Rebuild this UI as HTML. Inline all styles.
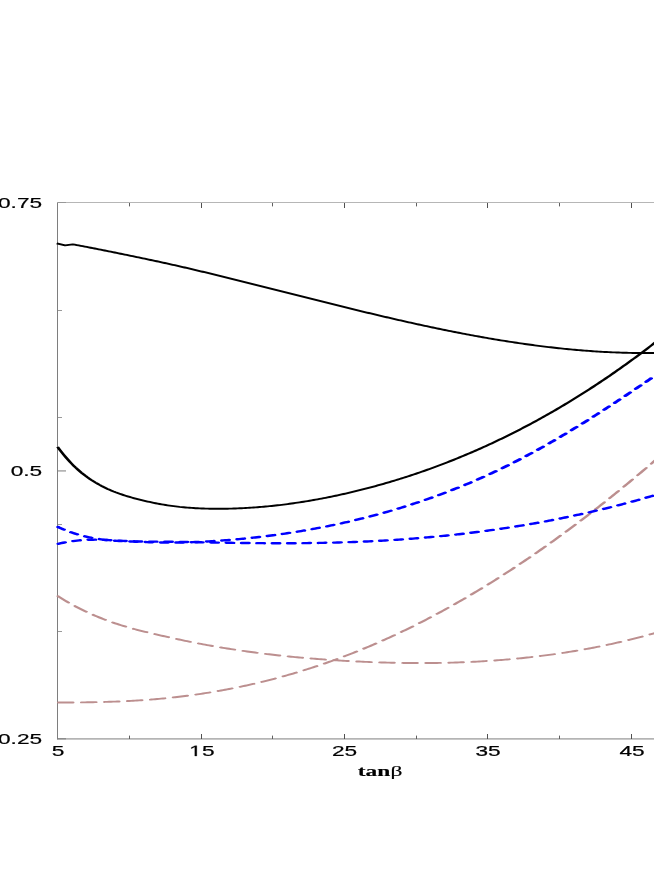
<!DOCTYPE html>
<html><head><meta charset="utf-8"><title>chart</title>
<style>
html,body{margin:0;padding:0;background:#fff;}
body{width:654px;height:872px;overflow:hidden;font-family:"Liberation Sans",sans-serif;}
svg{display:block}
text{font-family:"Liberation Sans",sans-serif;fill:#000}
.ser{font-family:"Liberation Serif",serif;font-weight:bold}
</style></head><body>
<svg width="654" height="872" viewBox="0 0 654 872">
<rect width="654" height="872" fill="#fff"/>
<g shape-rendering="crispEdges">
<rect x="57" y="202" width="597" height="1" fill="#b6b6b6"/>
<rect x="57" y="738" width="597" height="1" fill="#b4b4b4"/>
<rect x="57" y="739" width="597" height="1" fill="#c8c8c8"/>
<rect x="58" y="738" width="8" height="1" fill="#8c8c8c"/>
<rect x="58" y="739" width="8" height="1" fill="#b0b0b0"/>
<rect x="58" y="631" width="4" height="1" fill="#9a9a9a"/>
<rect x="58" y="524" width="4" height="1" fill="#9a9a9a"/>
<rect x="58" y="470" width="8" height="1" fill="#b4b4b4"/>
<rect x="58" y="471" width="8" height="1" fill="#c6c6c6"/>
<rect x="58" y="417" width="4" height="1" fill="#9a9a9a"/>
<rect x="58" y="310" width="4" height="1" fill="#9a9a9a"/>
<rect x="58" y="202" width="8" height="1" fill="#989898"/>
<rect x="57" y="203" width="1" height="536" fill="#7e7e7e"/>
<rect x="57" y="202" width="1" height="1" fill="#a4a4a4"/>
<rect x="57" y="739" width="1" height="1" fill="#a8a8a8"/>
<rect x="129" y="736" width="1" height="3" fill="#606060"/>
<rect x="129" y="203" width="1" height="3" fill="#606060"/>
<rect x="129" y="735" width="1" height="1" fill="#c0c0c0"/>
<rect x="129" y="206" width="1" height="1" fill="#c0c0c0"/>
<rect x="201" y="734" width="1" height="5" fill="#505050"/>
<rect x="201" y="203" width="1" height="5" fill="#505050"/>
<rect x="272" y="736" width="1" height="3" fill="#606060"/>
<rect x="272" y="203" width="1" height="3" fill="#606060"/>
<rect x="272" y="735" width="1" height="1" fill="#c0c0c0"/>
<rect x="272" y="206" width="1" height="1" fill="#c0c0c0"/>
<rect x="344" y="734" width="1" height="5" fill="#505050"/>
<rect x="344" y="203" width="1" height="5" fill="#505050"/>
<rect x="416" y="736" width="1" height="3" fill="#606060"/>
<rect x="416" y="203" width="1" height="3" fill="#606060"/>
<rect x="416" y="735" width="1" height="1" fill="#c0c0c0"/>
<rect x="416" y="206" width="1" height="1" fill="#c0c0c0"/>
<rect x="487" y="734" width="1" height="5" fill="#505050"/>
<rect x="487" y="203" width="1" height="5" fill="#505050"/>
<rect x="559" y="736" width="1" height="3" fill="#606060"/>
<rect x="559" y="203" width="1" height="3" fill="#606060"/>
<rect x="559" y="735" width="1" height="1" fill="#c0c0c0"/>
<rect x="559" y="206" width="1" height="1" fill="#c0c0c0"/>
<rect x="631" y="734" width="1" height="5" fill="#505050"/>
<rect x="631" y="203" width="1" height="5" fill="#505050"/>
</g>
<g transform="scale(1.6,1)">

<g fill="none" stroke-linejoin="round">
<path d="M35.69,595.68 L36.94,596.95 L38.19,598.19 L39.44,599.41 L40.69,600.60 L41.94,601.77 L43.19,602.91 L44.44,604.03 L45.69,605.12 L46.94,606.19 L48.19,607.24 L49.44,608.26 L50.69,609.26 L51.94,610.24 L53.19,611.20 L54.44,612.14 L55.69,613.06 L56.94,613.96 L58.19,614.83 L59.44,615.69 L60.69,616.53 L61.94,617.35 L63.19,618.16 L64.44,618.94 L65.69,619.71 L66.94,620.46 L68.19,621.20 L69.44,621.91 L70.69,622.61 L71.94,623.30 L73.19,623.96 L74.44,624.61 L75.69,625.24 L76.94,625.86 L78.19,626.46 L79.44,627.04 L80.69,627.62 L81.94,628.17 L83.19,628.72 L84.44,629.25 L85.69,629.78 L86.94,630.29 L88.19,630.80 L89.44,631.30 L90.69,631.79 L91.94,632.27 L93.19,632.75 L94.44,633.23 L95.69,633.70 L96.94,634.16 L98.19,634.63 L99.44,635.08 L100.69,635.54 L101.94,635.99 L103.19,636.44 L104.44,636.89 L105.69,637.34 L106.94,637.78 L108.19,638.22 L109.44,638.66 L110.69,639.09 L111.94,639.52 L113.19,639.94 L114.44,640.37 L115.69,640.78 L116.94,641.20 L118.19,641.60 L119.44,642.01 L120.69,642.41 L121.94,642.80 L123.19,643.19 L124.44,643.57 L125.69,643.95 L126.94,644.33 L128.19,644.70 L129.44,645.06 L130.69,645.42 L131.94,645.78 L133.19,646.13 L134.44,646.48 L135.69,646.82 L136.94,647.16 L138.19,647.50 L139.44,647.83 L140.69,648.15 L141.94,648.48 L143.19,648.79 L144.44,649.11 L145.69,649.42 L146.94,649.72 L148.19,650.02 L149.44,650.32 L150.69,650.61 L151.94,650.90 L153.19,651.19 L154.44,651.47 L155.69,651.75 L156.94,652.02 L158.19,652.29 L159.44,652.55 L160.69,652.81 L161.94,653.07 L163.19,653.33 L164.44,653.58 L165.69,653.82 L166.94,654.06 L168.19,654.30 L169.44,654.54 L170.69,654.77 L171.94,655.00 L173.19,655.22 L174.44,655.44 L175.69,655.66 L176.94,655.87 L178.19,656.08 L179.44,656.29 L180.69,656.49 L181.94,656.69 L183.19,656.88 L184.44,657.07 L185.69,657.26 L186.94,657.45 L188.19,657.63 L189.44,657.81 L190.69,657.99 L191.94,658.16 L193.19,658.33 L194.44,658.49 L195.69,658.65 L196.94,658.81 L198.19,658.97 L199.44,659.12 L200.69,659.27 L201.94,659.42 L203.19,659.56 L204.44,659.70 L205.69,659.84 L206.94,659.98 L208.19,660.11 L209.44,660.24 L210.69,660.36 L211.94,660.49 L213.19,660.61 L214.44,660.72 L215.69,660.84 L216.94,660.95 L218.19,661.06 L219.44,661.17 L220.69,661.27 L221.94,661.37 L223.19,661.47 L224.44,661.56 L225.69,661.66 L226.94,661.74 L228.19,661.83 L229.44,661.92 L230.69,662.00 L231.94,662.08 L233.19,662.15 L234.44,662.23 L235.69,662.30 L236.94,662.36 L238.19,662.43 L239.44,662.49 L240.69,662.55 L241.94,662.60 L243.19,662.65 L244.44,662.70 L245.69,662.75 L246.94,662.79 L248.19,662.83 L249.44,662.87 L250.69,662.90 L251.94,662.93 L253.19,662.96 L254.44,662.98 L255.69,663.00 L256.94,663.02 L258.19,663.03 L259.44,663.04 L260.69,663.05 L261.94,663.06 L263.19,663.06 L264.44,663.05 L265.69,663.05 L266.94,663.04 L268.19,663.02 L269.44,663.00 L270.69,662.98 L271.94,662.96 L273.19,662.93 L274.44,662.90 L275.69,662.87 L276.94,662.83 L278.19,662.78 L279.44,662.74 L280.69,662.69 L281.94,662.63 L283.19,662.58 L284.44,662.51 L285.69,662.45 L286.94,662.38 L288.19,662.31 L289.44,662.23 L290.69,662.15 L291.94,662.07 L293.19,661.98 L294.44,661.88 L295.69,661.79 L296.94,661.69 L298.19,661.58 L299.44,661.47 L300.69,661.36 L301.94,661.24 L303.19,661.12 L304.44,660.99 L305.69,660.86 L306.94,660.73 L308.19,660.59 L309.44,660.45 L310.69,660.30 L311.94,660.15 L313.19,660.00 L314.44,659.84 L315.69,659.67 L316.94,659.50 L318.19,659.33 L319.44,659.15 L320.69,658.97 L321.94,658.78 L323.19,658.59 L324.44,658.39 L325.69,658.19 L326.94,657.99 L328.19,657.78 L329.44,657.56 L330.69,657.35 L331.94,657.12 L333.19,656.89 L334.44,656.66 L335.69,656.42 L336.94,656.18 L338.19,655.93 L339.44,655.68 L340.69,655.42 L341.94,655.16 L343.19,654.89 L344.44,654.62 L345.69,654.34 L346.94,654.06 L348.19,653.77 L349.44,653.48 L350.69,653.18 L351.94,652.88 L353.19,652.57 L354.44,652.26 L355.69,651.94 L356.94,651.62 L358.19,651.29 L359.44,650.96 L360.69,650.62 L361.94,650.27 L363.19,649.93 L364.44,649.57 L365.69,649.21 L366.94,648.85 L368.19,648.47 L369.44,648.10 L370.69,647.72 L371.94,647.33 L373.19,646.94 L374.44,646.54 L375.69,646.14 L376.94,645.73 L378.19,645.31 L379.44,644.89 L380.69,644.47 L381.94,644.03 L383.19,643.60 L384.44,643.15 L385.69,642.71 L386.94,642.25 L388.19,641.79 L389.44,641.32 L390.69,640.85 L391.94,640.38 L393.19,639.89 L394.44,639.40 L395.69,638.91 L396.94,638.41 L398.19,637.90 L399.44,637.39 L400.69,636.87 L401.94,636.34 L403.19,635.81 L404.44,635.27 L405.69,634.73 L406.94,634.18 L408.19,633.62 L409.44,633.06 L410.69,632.49 L411.94,631.92 L413.19,631.34 L413.75,631.08" stroke="#bc8f8f" stroke-width="1.9" stroke-linecap="round" stroke-dasharray="9.1 5.3" stroke-dashoffset="-0.85"/>
<path d="M35.69,702.52 L36.94,702.52 L38.19,702.51 L39.44,702.50 L40.69,702.50 L41.94,702.49 L43.19,702.48 L44.44,702.46 L45.69,702.45 L46.94,702.44 L48.19,702.42 L49.44,702.40 L50.69,702.38 L51.94,702.35 L53.19,702.33 L54.44,702.30 L55.69,702.27 L56.94,702.23 L58.19,702.20 L59.44,702.16 L60.69,702.12 L61.94,702.07 L63.19,702.02 L64.44,701.97 L65.69,701.92 L66.94,701.86 L68.19,701.80 L69.44,701.74 L70.69,701.67 L71.94,701.59 L73.19,701.52 L74.44,701.44 L75.69,701.36 L76.94,701.27 L78.19,701.18 L79.44,701.08 L80.69,700.98 L81.94,700.88 L83.19,700.77 L84.44,700.65 L85.69,700.53 L86.94,700.41 L88.19,700.28 L89.44,700.14 L90.69,700.00 L91.94,699.86 L93.19,699.71 L94.44,699.55 L95.69,699.39 L96.94,699.22 L98.19,699.05 L99.44,698.87 L100.69,698.68 L101.94,698.49 L103.19,698.30 L104.44,698.09 L105.69,697.89 L106.94,697.67 L108.19,697.45 L109.44,697.23 L110.69,697.00 L111.94,696.76 L113.19,696.52 L114.44,696.28 L115.69,696.02 L116.94,695.77 L118.19,695.50 L119.44,695.23 L120.69,694.96 L121.94,694.68 L123.19,694.39 L124.44,694.10 L125.69,693.80 L126.94,693.50 L128.19,693.19 L129.44,692.87 L130.69,692.55 L131.94,692.22 L133.19,691.89 L134.44,691.55 L135.69,691.20 L136.94,690.85 L138.19,690.49 L139.44,690.13 L140.69,689.76 L141.94,689.38 L143.19,689.00 L144.44,688.61 L145.69,688.22 L146.94,687.82 L148.19,687.42 L149.44,687.00 L150.69,686.59 L151.94,686.16 L153.19,685.73 L154.44,685.29 L155.69,684.85 L156.94,684.40 L158.19,683.95 L159.44,683.49 L160.69,683.02 L161.94,682.55 L163.19,682.07 L164.44,681.58 L165.69,681.09 L166.94,680.59 L168.19,680.08 L169.44,679.57 L170.69,679.05 L171.94,678.53 L173.19,678.00 L174.44,677.46 L175.69,676.92 L176.94,676.37 L178.19,675.81 L179.44,675.25 L180.69,674.68 L181.94,674.11 L183.19,673.52 L184.44,672.93 L185.69,672.34 L186.94,671.74 L188.19,671.13 L189.44,670.51 L190.69,669.89 L191.94,669.26 L193.19,668.63 L194.44,667.99 L195.69,667.34 L196.94,666.69 L198.19,666.03 L199.44,665.36 L200.69,664.68 L201.94,664.00 L203.19,663.31 L204.44,662.62 L205.69,661.92 L206.94,661.21 L208.19,660.49 L209.44,659.77 L210.69,659.04 L211.94,658.31 L213.19,657.56 L214.44,656.81 L215.69,656.06 L216.94,655.30 L218.19,654.53 L219.44,653.75 L220.69,652.96 L221.94,652.17 L223.19,651.38 L224.44,650.57 L225.69,649.76 L226.94,648.94 L228.19,648.12 L229.44,647.28 L230.69,646.44 L231.94,645.60 L233.19,644.74 L234.44,643.88 L235.69,643.02 L236.94,642.14 L238.19,641.26 L239.44,640.37 L240.69,639.48 L241.94,638.58 L243.19,637.67 L244.44,636.75 L245.69,635.83 L246.94,634.90 L248.19,633.97 L249.44,633.03 L250.69,632.08 L251.94,631.12 L253.19,630.16 L254.44,629.19 L255.69,628.21 L256.94,627.23 L258.19,626.24 L259.44,625.25 L260.69,624.24 L261.94,623.23 L263.19,622.22 L264.44,621.20 L265.69,620.17 L266.94,619.13 L268.19,618.09 L269.44,617.04 L270.69,615.98 L271.94,614.92 L273.19,613.85 L274.44,612.78 L275.69,611.70 L276.94,610.61 L278.19,609.51 L279.44,608.41 L280.69,607.30 L281.94,606.19 L283.19,605.07 L284.44,603.94 L285.69,602.81 L286.94,601.67 L288.19,600.52 L289.44,599.37 L290.69,598.21 L291.94,597.04 L293.19,595.87 L294.44,594.69 L295.69,593.51 L296.94,592.31 L298.19,591.12 L299.44,589.91 L300.69,588.70 L301.94,587.48 L303.19,586.26 L304.44,585.03 L305.69,583.80 L306.94,582.56 L308.19,581.31 L309.44,580.05 L310.69,578.79 L311.94,577.53 L313.19,576.25 L314.44,574.97 L315.69,573.69 L316.94,572.40 L318.19,571.10 L319.44,569.79 L320.69,568.48 L321.94,567.17 L323.19,565.85 L324.44,564.52 L325.69,563.18 L326.94,561.84 L328.19,560.50 L329.44,559.14 L330.69,557.78 L331.94,556.42 L333.19,555.05 L334.44,553.67 L335.69,552.29 L336.94,550.90 L338.19,549.50 L339.44,548.10 L340.69,546.70 L341.94,545.28 L343.19,543.86 L344.44,542.44 L345.69,541.01 L346.94,539.57 L348.19,538.13 L349.44,536.68 L350.69,535.23 L351.94,533.76 L353.19,532.30 L354.44,530.83 L355.69,529.35 L356.94,527.86 L358.19,526.38 L359.44,524.88 L360.69,523.38 L361.94,521.87 L363.19,520.36 L364.44,518.84 L365.69,517.32 L366.94,515.79 L368.19,514.25 L369.44,512.71 L370.69,511.16 L371.94,509.61 L373.19,508.05 L374.44,506.49 L375.69,504.92 L376.94,503.34 L378.19,501.76 L379.44,500.17 L380.69,498.58 L381.94,496.98 L383.19,495.38 L384.44,493.77 L385.69,492.15 L386.94,490.53 L388.19,488.91 L389.44,487.27 L390.69,485.64 L391.94,483.99 L393.19,482.35 L394.44,480.69 L395.69,479.03 L396.94,477.37 L398.19,475.70 L399.44,474.02 L400.69,472.34 L401.94,470.65 L403.19,468.96 L404.44,467.27 L405.69,465.56 L406.94,463.85 L408.19,462.14 L409.44,460.42 L410.69,458.70 L411.94,456.97 L413.19,455.23 L413.75,454.45" stroke="#bc8f8f" stroke-width="1.9" stroke-linecap="round" stroke-dasharray="9.1 5.3" stroke-dashoffset="-0.85"/>
<path d="M35.69,526.51 L36.94,527.47 L38.19,528.38 L39.44,529.25 L40.69,530.07 L41.94,530.87 L43.19,531.62 L44.44,532.33 L45.69,533.01 L46.94,533.66 L48.19,534.27 L49.44,534.85 L50.69,535.39 L51.94,535.91 L53.19,536.39 L54.44,536.85 L55.69,537.28 L56.94,537.68 L58.19,538.05 L59.44,538.40 L60.69,538.73 L61.94,539.03 L63.19,539.31 L64.44,539.57 L65.69,539.81 L66.94,540.03 L68.19,540.23 L69.44,540.41 L70.69,540.58 L71.94,540.73 L73.19,540.86 L74.44,540.99 L75.69,541.10 L76.94,541.20 L78.19,541.29 L79.44,541.38 L80.69,541.46 L81.94,541.54 L83.19,541.62 L84.44,541.69 L85.69,541.76 L86.94,541.83 L88.19,541.90 L89.44,541.97 L90.69,542.04 L91.94,542.11 L93.19,542.18 L94.44,542.24 L95.69,542.30 L96.94,542.35 L98.19,542.40 L99.44,542.45 L100.69,542.49 L101.94,542.52 L103.19,542.55 L104.44,542.56 L105.69,542.58 L106.94,542.58 L108.19,542.57 L109.44,542.56 L110.69,542.54 L111.94,542.52 L113.19,542.48 L114.44,542.44 L115.69,542.39 L116.94,542.33 L118.19,542.26 L119.44,542.19 L120.69,542.12 L121.94,542.04 L123.19,541.95 L124.44,541.86 L125.69,541.77 L126.94,541.67 L128.19,541.56 L129.44,541.45 L130.69,541.34 L131.94,541.22 L133.19,541.10 L134.44,540.97 L135.69,540.84 L136.94,540.70 L138.19,540.56 L139.44,540.41 L140.69,540.26 L141.94,540.11 L143.19,539.95 L144.44,539.78 L145.69,539.61 L146.94,539.44 L148.19,539.26 L149.44,539.08 L150.69,538.89 L151.94,538.70 L153.19,538.50 L154.44,538.30 L155.69,538.09 L156.94,537.88 L158.19,537.67 L159.44,537.45 L160.69,537.22 L161.94,536.99 L163.19,536.76 L164.44,536.52 L165.69,536.27 L166.94,536.02 L168.19,535.77 L169.44,535.51 L170.69,535.25 L171.94,534.98 L173.19,534.71 L174.44,534.43 L175.69,534.15 L176.94,533.86 L178.19,533.56 L179.44,533.27 L180.69,532.96 L181.94,532.66 L183.19,532.34 L184.44,532.03 L185.69,531.71 L186.94,531.38 L188.19,531.05 L189.44,530.71 L190.69,530.37 L191.94,530.02 L193.19,529.67 L194.44,529.31 L195.69,528.95 L196.94,528.58 L198.19,528.21 L199.44,527.83 L200.69,527.45 L201.94,527.06 L203.19,526.67 L204.44,526.27 L205.69,525.87 L206.94,525.46 L208.19,525.05 L209.44,524.63 L210.69,524.21 L211.94,523.78 L213.19,523.35 L214.44,522.91 L215.69,522.47 L216.94,522.02 L218.19,521.56 L219.44,521.10 L220.69,520.63 L221.94,520.16 L223.19,519.68 L224.44,519.20 L225.69,518.71 L226.94,518.22 L228.19,517.72 L229.44,517.21 L230.69,516.70 L231.94,516.18 L233.19,515.66 L234.44,515.13 L235.69,514.60 L236.94,514.06 L238.19,513.51 L239.44,512.96 L240.69,512.40 L241.94,511.84 L243.19,511.27 L244.44,510.69 L245.69,510.11 L246.94,509.52 L248.19,508.92 L249.44,508.32 L250.69,507.72 L251.94,507.10 L253.19,506.48 L254.44,505.86 L255.69,505.22 L256.94,504.58 L258.19,503.94 L259.44,503.29 L260.69,502.63 L261.94,501.96 L263.19,501.29 L264.44,500.62 L265.69,499.93 L266.94,499.24 L268.19,498.54 L269.44,497.84 L270.69,497.13 L271.94,496.41 L273.19,495.68 L274.44,494.95 L275.69,494.21 L276.94,493.47 L278.19,492.72 L279.44,491.96 L280.69,491.19 L281.94,490.42 L283.19,489.64 L284.44,488.85 L285.69,488.05 L286.94,487.25 L288.19,486.44 L289.44,485.63 L290.69,484.80 L291.94,483.97 L293.19,483.14 L294.44,482.29 L295.69,481.44 L296.94,480.58 L298.19,479.71 L299.44,478.84 L300.69,477.95 L301.94,477.07 L303.19,476.17 L304.44,475.26 L305.69,474.35 L306.94,473.43 L308.19,472.50 L309.44,471.57 L310.69,470.62 L311.94,469.67 L313.19,468.72 L314.44,467.75 L315.69,466.77 L316.94,465.79 L318.19,464.80 L319.44,463.80 L320.69,462.80 L321.94,461.78 L323.19,460.76 L324.44,459.73 L325.69,458.69 L326.94,457.65 L328.19,456.59 L329.44,455.53 L330.69,454.46 L331.94,453.39 L333.19,452.30 L334.44,451.21 L335.69,450.11 L336.94,449.01 L338.19,447.89 L339.44,446.77 L340.69,445.65 L341.94,444.51 L343.19,443.37 L344.44,442.23 L345.69,441.07 L346.94,439.91 L348.19,438.75 L349.44,437.57 L350.69,436.40 L351.94,435.21 L353.19,434.02 L354.44,432.82 L355.69,431.62 L356.94,430.41 L358.19,429.20 L359.44,427.98 L360.69,426.75 L361.94,425.52 L363.19,424.29 L364.44,423.04 L365.69,421.80 L366.94,420.55 L368.19,419.29 L369.44,418.03 L370.69,416.76 L371.94,415.49 L373.19,414.22 L374.44,412.94 L375.69,411.65 L376.94,410.37 L378.19,409.07 L379.44,407.78 L380.69,406.48 L381.94,405.17 L383.19,403.86 L384.44,402.55 L385.69,401.23 L386.94,399.91 L388.19,398.59 L389.44,397.26 L390.69,395.93 L391.94,394.60 L393.19,393.26 L394.44,391.92 L395.69,390.58 L396.94,389.23 L398.19,387.89 L399.44,386.54 L400.69,385.18 L401.94,383.82 L403.19,382.47 L404.44,381.10 L405.69,379.74 L406.94,378.38 L408.19,377.01 L409.44,375.64 L410.69,374.27 L411.94,372.89 L413.19,371.52 L413.75,370.90" stroke="#0000ff" stroke-width="2.4" stroke-linecap="round" stroke-dasharray="4.5 5.1" stroke-dashoffset="-0.8"/>
<path d="M35.69,544.09 L36.94,543.62 L38.19,543.17 L39.44,542.75 L40.69,542.36 L41.94,541.99 L43.19,541.66 L44.44,541.35 L45.69,541.07 L46.94,540.82 L48.19,540.59 L49.44,540.39 L50.69,540.21 L51.94,540.06 L53.19,539.94 L54.44,539.84 L55.69,539.76 L56.94,539.71 L58.19,539.68 L59.44,539.67 L60.69,539.68 L61.94,539.72 L63.19,539.77 L64.44,539.84 L65.69,539.93 L66.94,540.03 L68.19,540.13 L69.44,540.25 L70.69,540.36 L71.94,540.48 L73.19,540.60 L74.44,540.71 L75.69,540.81 L76.94,540.91 L78.19,541.00 L79.44,541.08 L80.69,541.15 L81.94,541.22 L83.19,541.28 L84.44,541.34 L85.69,541.39 L86.94,541.43 L88.19,541.47 L89.44,541.50 L90.69,541.53 L91.94,541.56 L93.19,541.58 L94.44,541.60 L95.69,541.62 L96.94,541.64 L98.19,541.66 L99.44,541.68 L100.69,541.69 L101.94,541.71 L103.19,541.73 L104.44,541.75 L105.69,541.77 L106.94,541.80 L108.19,541.82 L109.44,541.85 L110.69,541.88 L111.94,541.91 L113.19,541.94 L114.44,541.98 L115.69,542.01 L116.94,542.05 L118.19,542.09 L119.44,542.13 L120.69,542.17 L121.94,542.21 L123.19,542.24 L124.44,542.28 L125.69,542.32 L126.94,542.36 L128.19,542.39 L129.44,542.43 L130.69,542.47 L131.94,542.50 L133.19,542.54 L134.44,542.57 L135.69,542.60 L136.94,542.64 L138.19,542.67 L139.44,542.70 L140.69,542.73 L141.94,542.77 L143.19,542.80 L144.44,542.82 L145.69,542.85 L146.94,542.88 L148.19,542.91 L149.44,542.93 L150.69,542.96 L151.94,542.98 L153.19,543.01 L154.44,543.03 L155.69,543.05 L156.94,543.07 L158.19,543.09 L159.44,543.11 L160.69,543.12 L161.94,543.14 L163.19,543.15 L164.44,543.17 L165.69,543.18 L166.94,543.19 L168.19,543.20 L169.44,543.21 L170.69,543.21 L171.94,543.22 L173.19,543.22 L174.44,543.23 L175.69,543.23 L176.94,543.23 L178.19,543.22 L179.44,543.22 L180.69,543.21 L181.94,543.21 L183.19,543.20 L184.44,543.19 L185.69,543.18 L186.94,543.16 L188.19,543.15 L189.44,543.13 L190.69,543.11 L191.94,543.09 L193.19,543.07 L194.44,543.04 L195.69,543.01 L196.94,542.98 L198.19,542.95 L199.44,542.92 L200.69,542.88 L201.94,542.85 L203.19,542.81 L204.44,542.77 L205.69,542.72 L206.94,542.68 L208.19,542.63 L209.44,542.58 L210.69,542.52 L211.94,542.47 L213.19,542.41 L214.44,542.35 L215.69,542.29 L216.94,542.22 L218.19,542.16 L219.44,542.09 L220.69,542.01 L221.94,541.94 L223.19,541.86 L224.44,541.78 L225.69,541.70 L226.94,541.61 L228.19,541.52 L229.44,541.43 L230.69,541.34 L231.94,541.24 L233.19,541.14 L234.44,541.04 L235.69,540.94 L236.94,540.83 L238.19,540.72 L239.44,540.61 L240.69,540.49 L241.94,540.37 L243.19,540.25 L244.44,540.13 L245.69,540.00 L246.94,539.87 L248.19,539.74 L249.44,539.61 L250.69,539.47 L251.94,539.33 L253.19,539.19 L254.44,539.04 L255.69,538.89 L256.94,538.74 L258.19,538.59 L259.44,538.43 L260.69,538.27 L261.94,538.10 L263.19,537.94 L264.44,537.77 L265.69,537.60 L266.94,537.42 L268.19,537.24 L269.44,537.06 L270.69,536.88 L271.94,536.69 L273.19,536.50 L274.44,536.31 L275.69,536.11 L276.94,535.91 L278.19,535.71 L279.44,535.50 L280.69,535.29 L281.94,535.08 L283.19,534.87 L284.44,534.65 L285.69,534.43 L286.94,534.20 L288.19,533.98 L289.44,533.75 L290.69,533.51 L291.94,533.27 L293.19,533.03 L294.44,532.79 L295.69,532.54 L296.94,532.29 L298.19,532.04 L299.44,531.78 L300.69,531.52 L301.94,531.26 L303.19,530.99 L304.44,530.73 L305.69,530.45 L306.94,530.18 L308.19,529.90 L309.44,529.61 L310.69,529.33 L311.94,529.04 L313.19,528.74 L314.44,528.45 L315.69,528.15 L316.94,527.84 L318.19,527.54 L319.44,527.23 L320.69,526.91 L321.94,526.60 L323.19,526.28 L324.44,525.95 L325.69,525.62 L326.94,525.29 L328.19,524.96 L329.44,524.62 L330.69,524.28 L331.94,523.93 L333.19,523.58 L334.44,523.23 L335.69,522.87 L336.94,522.52 L338.19,522.15 L339.44,521.79 L340.69,521.41 L341.94,521.04 L343.19,520.66 L344.44,520.28 L345.69,519.90 L346.94,519.51 L348.19,519.11 L349.44,518.72 L350.69,518.32 L351.94,517.91 L353.19,517.51 L354.44,517.10 L355.69,516.68 L356.94,516.26 L358.19,515.84 L359.44,515.41 L360.69,514.98 L361.94,514.55 L363.19,514.11 L364.44,513.67 L365.69,513.22 L366.94,512.77 L368.19,512.32 L369.44,511.86 L370.69,511.40 L371.94,510.94 L373.19,510.47 L374.44,510.00 L375.69,509.52 L376.94,509.04 L378.19,508.55 L379.44,508.07 L380.69,507.57 L381.94,507.08 L383.19,506.58 L384.44,506.07 L385.69,505.56 L386.94,505.05 L388.19,504.53 L389.44,504.01 L390.69,503.49 L391.94,502.96 L393.19,502.42 L394.44,501.89 L395.69,501.34 L396.94,500.80 L398.19,500.25 L399.44,499.70 L400.69,499.14 L401.94,498.58 L403.19,498.01 L404.44,497.44 L405.69,496.86 L406.94,496.28 L408.19,495.70 L409.44,495.11 L410.69,494.52 L411.94,493.93 L413.19,493.32 L413.75,493.05" stroke="#0000ff" stroke-width="2.4" stroke-linecap="round" stroke-dasharray="4.5 5.1" stroke-dashoffset="-0.8"/>
<path d="M35.44,243.4 L40.69,245.4 L45.44,244.34 L46.69,244.71 L47.94,245.08 L49.19,245.45 L50.44,245.82 L51.69,246.20 L52.94,246.58 L54.19,246.96 L55.44,247.34 L56.69,247.73 L57.94,248.11 L59.19,248.50 L60.44,248.89 L61.69,249.29 L62.94,249.68 L64.19,250.08 L65.44,250.48 L66.69,250.88 L67.94,251.29 L69.19,251.69 L70.44,252.10 L71.69,252.51 L72.94,252.91 L74.19,253.32 L75.44,253.74 L76.69,254.15 L77.94,254.56 L79.19,254.97 L80.44,255.39 L81.69,255.80 L82.94,256.22 L84.19,256.63 L85.44,257.05 L86.69,257.46 L87.94,257.88 L89.19,258.30 L90.44,258.72 L91.69,259.14 L92.94,259.56 L94.19,259.99 L95.44,260.41 L96.69,260.84 L97.94,261.27 L99.19,261.70 L100.44,262.13 L101.69,262.56 L102.94,263.00 L104.19,263.44 L105.44,263.88 L106.69,264.32 L107.94,264.77 L109.19,265.22 L110.44,265.67 L111.69,266.12 L112.94,266.58 L114.19,267.04 L115.44,267.50 L116.69,267.97 L117.94,268.43 L119.19,268.90 L120.44,269.37 L121.69,269.85 L122.94,270.32 L124.19,270.80 L125.44,271.27 L126.69,271.75 L127.94,272.23 L129.19,272.71 L130.44,273.19 L131.69,273.68 L132.94,274.16 L134.19,274.65 L135.44,275.13 L136.69,275.62 L137.94,276.11 L139.19,276.60 L140.44,277.09 L141.69,277.58 L142.94,278.07 L144.19,278.57 L145.44,279.06 L146.69,279.56 L147.94,280.05 L149.19,280.55 L150.44,281.05 L151.69,281.55 L152.94,282.05 L154.19,282.55 L155.44,283.05 L156.69,283.55 L157.94,284.05 L159.19,284.55 L160.44,285.05 L161.69,285.55 L162.94,286.06 L164.19,286.56 L165.44,287.07 L166.69,287.57 L167.94,288.07 L169.19,288.58 L170.44,289.08 L171.69,289.59 L172.94,290.10 L174.19,290.60 L175.44,291.11 L176.69,291.61 L177.94,292.12 L179.19,292.62 L180.44,293.13 L181.69,293.64 L182.94,294.14 L184.19,294.65 L185.44,295.15 L186.69,295.66 L187.94,296.16 L189.19,296.67 L190.44,297.17 L191.69,297.68 L192.94,298.18 L194.19,298.69 L195.44,299.19 L196.69,299.69 L197.94,300.19 L199.19,300.70 L200.44,301.20 L201.69,301.70 L202.94,302.20 L204.19,302.70 L205.44,303.20 L206.69,303.70 L207.94,304.19 L209.19,304.69 L210.44,305.19 L211.69,305.68 L212.94,306.18 L214.19,306.67 L215.44,307.16 L216.69,307.66 L217.94,308.15 L219.19,308.64 L220.44,309.13 L221.69,309.61 L222.94,310.10 L224.19,310.59 L225.44,311.07 L226.69,311.56 L227.94,312.04 L229.19,312.52 L230.44,313.00 L231.69,313.48 L232.94,313.95 L234.19,314.43 L235.44,314.90 L236.69,315.38 L237.94,315.85 L239.19,316.32 L240.44,316.79 L241.69,317.25 L242.94,317.72 L244.19,318.18 L245.44,318.65 L246.69,319.11 L247.94,319.57 L249.19,320.02 L250.44,320.48 L251.69,320.93 L252.94,321.38 L254.19,321.83 L255.44,322.28 L256.69,322.73 L257.94,323.17 L259.19,323.61 L260.44,324.05 L261.69,324.49 L262.94,324.93 L264.19,325.36 L265.44,325.79 L266.69,326.22 L267.94,326.65 L269.19,327.07 L270.44,327.50 L271.69,327.92 L272.94,328.34 L274.19,328.75 L275.44,329.16 L276.69,329.58 L277.94,329.98 L279.19,330.39 L280.44,330.79 L281.69,331.19 L282.94,331.59 L284.19,331.99 L285.44,332.38 L286.69,332.77 L287.94,333.16 L289.19,333.55 L290.44,333.93 L291.69,334.31 L292.94,334.68 L294.19,335.06 L295.44,335.43 L296.69,335.80 L297.94,336.16 L299.19,336.52 L300.44,336.88 L301.69,337.24 L302.94,337.59 L304.19,337.94 L305.44,338.29 L306.69,338.63 L307.94,338.97 L309.19,339.31 L310.44,339.64 L311.69,339.97 L312.94,340.30 L314.19,340.62 L315.44,340.94 L316.69,341.26 L317.94,341.57 L319.19,341.88 L320.44,342.19 L321.69,342.49 L322.94,342.79 L324.19,343.09 L325.44,343.38 L326.69,343.67 L327.94,343.95 L329.19,344.23 L330.44,344.51 L331.69,344.78 L332.94,345.05 L334.19,345.32 L335.44,345.58 L336.69,345.84 L337.94,346.09 L339.19,346.34 L340.44,346.59 L341.69,346.83 L342.94,347.07 L344.19,347.30 L345.44,347.53 L346.69,347.76 L347.94,347.98 L349.19,348.19 L350.44,348.41 L351.69,348.61 L352.94,348.82 L354.19,349.02 L355.44,349.21 L356.69,349.40 L357.94,349.59 L359.19,349.77 L360.44,349.95 L361.69,350.12 L362.94,350.29 L364.19,350.45 L365.44,350.61 L366.69,350.77 L367.94,350.92 L369.19,351.06 L370.44,351.20 L371.69,351.33 L372.94,351.47 L374.19,351.59 L375.44,351.71 L376.69,351.83 L377.94,351.94 L379.19,352.04 L380.44,352.14 L381.69,352.24 L382.94,352.33 L384.19,352.41 L385.44,352.49 L386.69,352.57 L387.94,352.64 L389.19,352.70 L390.44,352.76 L391.69,352.82 L392.94,352.87 L394.19,352.91 L395.44,352.95 L396.69,352.98 L397.94,353.01 L399.19,353.03 L400.44,353.04 L401.69,353.05 L402.94,353.06 L404.19,353.06 L405.44,353.05 L406.69,353.04 L407.94,353.02 L409.19,353.00 L410.44,352.97 L411.69,352.93 L412.94,352.89 L413.75,352.86" stroke="#000" stroke-width="1.9"/>
<path d="M36.00,446.82 L37.25,449.54 L38.50,452.15 L39.75,454.64 L41.00,457.04 L42.25,459.33 L43.50,461.52 L44.75,463.62 L46.00,465.63 L47.25,467.55 L48.50,469.38 L49.75,471.13 L51.00,472.81 L52.25,474.40 L53.50,475.93 L54.75,477.39 L56.00,478.78 L57.25,480.11 L58.50,481.38 L59.75,482.60 L61.00,483.76 L62.25,484.88 L63.50,485.95 L64.75,486.97 L66.00,487.95 L67.25,488.90 L68.50,489.80 L69.75,490.66 L71.00,491.49 L72.25,492.28 L73.50,493.03 L74.75,493.75 L76.00,494.44 L77.25,495.10 L78.50,495.73 L79.75,496.34 L81.00,496.93 L82.25,497.50 L83.50,498.06 L84.75,498.59 L86.00,499.11 L87.25,499.62 L88.50,500.12 L89.75,500.60 L91.00,501.07 L92.25,501.53 L93.50,501.98 L94.75,502.41 L96.00,502.83 L97.25,503.23 L98.50,503.62 L99.75,503.99 L101.00,504.35 L102.25,504.70 L103.50,505.03 L104.75,505.34 L106.00,505.64 L107.25,505.92 L108.50,506.19 L109.75,506.44 L111.00,506.67 L112.25,506.90 L113.50,507.10 L114.75,507.30 L116.00,507.48 L117.25,507.64 L118.50,507.79 L119.75,507.93 L121.00,508.06 L122.25,508.18 L123.50,508.28 L124.75,508.38 L126.00,508.46 L127.25,508.53 L128.50,508.59 L129.75,508.65 L131.00,508.69 L132.25,508.72 L133.50,508.74 L134.75,508.76 L136.00,508.77 L137.25,508.76 L138.50,508.75 L139.75,508.74 L141.00,508.71 L142.25,508.68 L143.50,508.63 L144.75,508.58 L146.00,508.52 L147.25,508.46 L148.50,508.38 L149.75,508.30 L151.00,508.21 L152.25,508.11 L153.50,508.01 L154.75,507.90 L156.00,507.78 L157.25,507.65 L158.50,507.51 L159.75,507.37 L161.00,507.22 L162.25,507.06 L163.50,506.89 L164.75,506.72 L166.00,506.54 L167.25,506.35 L168.50,506.15 L169.75,505.95 L171.00,505.74 L172.25,505.52 L173.50,505.29 L174.75,505.06 L176.00,504.82 L177.25,504.57 L178.50,504.32 L179.75,504.06 L181.00,503.79 L182.25,503.51 L183.50,503.23 L184.75,502.94 L186.00,502.65 L187.25,502.34 L188.50,502.03 L189.75,501.72 L191.00,501.39 L192.25,501.06 L193.50,500.73 L194.75,500.38 L196.00,500.03 L197.25,499.68 L198.50,499.31 L199.75,498.94 L201.00,498.57 L202.25,498.18 L203.50,497.79 L204.75,497.40 L206.00,496.99 L207.25,496.59 L208.50,496.17 L209.75,495.75 L211.00,495.32 L212.25,494.89 L213.50,494.45 L214.75,494.00 L216.00,493.55 L217.25,493.09 L218.50,492.62 L219.75,492.15 L221.00,491.68 L222.25,491.19 L223.50,490.70 L224.75,490.21 L226.00,489.71 L227.25,489.20 L228.50,488.69 L229.75,488.17 L231.00,487.64 L232.25,487.11 L233.50,486.57 L234.75,486.03 L236.00,485.48 L237.25,484.92 L238.50,484.36 L239.75,483.79 L241.00,483.22 L242.25,482.63 L243.50,482.05 L244.75,481.45 L246.00,480.85 L247.25,480.25 L248.50,479.63 L249.75,479.01 L251.00,478.39 L252.25,477.76 L253.50,477.12 L254.75,476.47 L256.00,475.82 L257.25,475.16 L258.50,474.50 L259.75,473.83 L261.00,473.15 L262.25,472.47 L263.50,471.78 L264.75,471.08 L266.00,470.38 L267.25,469.67 L268.50,468.95 L269.75,468.23 L271.00,467.50 L272.25,466.76 L273.50,466.02 L274.75,465.27 L276.00,464.51 L277.25,463.75 L278.50,462.98 L279.75,462.20 L281.00,461.42 L282.25,460.63 L283.50,459.83 L284.75,459.03 L286.00,458.22 L287.25,457.40 L288.50,456.58 L289.75,455.75 L291.00,454.91 L292.25,454.07 L293.50,453.22 L294.75,452.36 L296.00,451.50 L297.25,450.62 L298.50,449.75 L299.75,448.86 L301.00,447.97 L302.25,447.07 L303.50,446.16 L304.75,445.25 L306.00,444.33 L307.25,443.40 L308.50,442.47 L309.75,441.53 L311.00,440.58 L312.25,439.62 L313.50,438.66 L314.75,437.69 L316.00,436.71 L317.25,435.73 L318.50,434.74 L319.75,433.74 L321.00,432.73 L322.25,431.72 L323.50,430.70 L324.75,429.67 L326.00,428.64 L327.25,427.60 L328.50,426.55 L329.75,425.49 L331.00,424.43 L332.25,423.36 L333.50,422.28 L334.75,421.20 L336.00,420.11 L337.25,419.01 L338.50,417.90 L339.75,416.78 L341.00,415.66 L342.25,414.53 L343.50,413.40 L344.75,412.25 L346.00,411.10 L347.25,409.94 L348.50,408.77 L349.75,407.60 L351.00,406.42 L352.25,405.23 L353.50,404.03 L354.75,402.83 L356.00,401.62 L357.25,400.40 L358.50,399.17 L359.75,397.93 L361.00,396.69 L362.25,395.44 L363.50,394.18 L364.75,392.92 L366.00,391.65 L367.25,390.37 L368.50,389.08 L369.75,387.78 L371.00,386.48 L372.25,385.17 L373.50,383.85 L374.75,382.52 L376.00,381.18 L377.25,379.84 L378.50,378.49 L379.75,377.13 L381.00,375.77 L382.25,374.39 L383.50,373.01 L384.75,371.62 L386.00,370.22 L387.25,368.82 L388.50,367.40 L389.75,365.98 L391.00,364.55 L392.25,363.11 L393.50,361.67 L394.75,360.22 L396.00,358.75 L397.25,357.28 L398.50,355.81 L399.75,354.32 L401.00,352.83 L402.25,351.32 L403.50,349.81 L404.75,348.30 L406.00,346.77 L407.25,345.24 L408.50,343.69 L409.75,342.14 L411.00,340.58 L412.25,339.02 L413.50,337.44 L413.75,337.12" stroke="#000" stroke-width="1.9"/>
</g>
</g>
<g opacity="0.999" stroke="#000" stroke-width="0.22">
<text transform="translate(58.1,756) scale(1.52,1)" text-anchor="middle" font-size="14.9" >5</text>
<path transform="translate(189.10,756) scale(0.011059,-0.007275)" d="M515,0 L515,1237 L197,1010 L197,1180 L530,1409 L696,1409 L696,0 Z" fill="#000" stroke="#000" stroke-width="30.2"/>
<text transform="translate(202.10,756) scale(1.52,1)" font-size="14.9">5</text>
<text transform="translate(344.5,756) scale(1.52,1)" text-anchor="middle" font-size="14.9" >25</text>
<text transform="translate(488.1,756) scale(1.52,1)" text-anchor="middle" font-size="14.9" >35</text>
<text transform="translate(632.1,756) scale(1.52,1)" text-anchor="middle" font-size="14.9" >45</text>
<text transform="translate(42.1,208.0) scale(1.52,1)" text-anchor="end" font-size="14.9" >0.75</text>
<text transform="translate(42.1,476.1) scale(1.52,1)" text-anchor="end" font-size="14.9" >0.5</text>
<text transform="translate(42.1,744.1) scale(1.52,1)" text-anchor="end" font-size="14.9" >0.25</text>
<text class="ser" transform="translate(357.8,775.7) scale(1.575,1)" font-size="14.9" stroke-width="0.15">tan<tspan font-weight="normal">&#946;</tspan></text>
</g>
</svg>
</body></html>
